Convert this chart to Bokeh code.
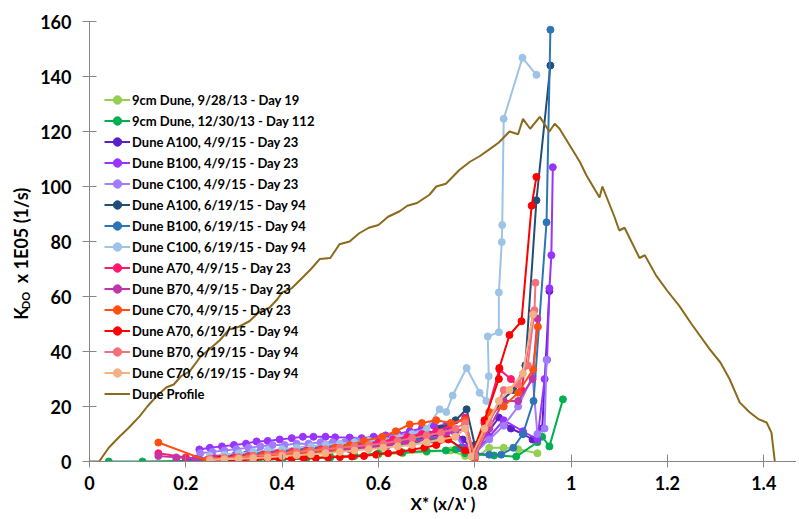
import math
from bokeh.plotting import figure
from bokeh.layouts import row
from bokeh.models import Legend, LegendItem, FixedTicker, CustomJSTickFormatter, Range1d
from bokeh.core.properties import value
from bokeh.embed import file_html
from bokeh.resources import INLINE

FONT = "Lato"

# ---- data ----
s1_x = [0.45, 0.5, 0.55, 0.6, 0.65, 0.7, 0.75, 0.78, 0.8, 0.83, 0.86, 0.89, 0.93]
s1_y = [1.5, 2, 2.2, 2.5, 3, 3.5, 4, 2, 1, 5, 5, 4.5, 3]

s2_x = [0.04, 0.11, 0.18, 0.25, 0.3, 0.35, 0.4, 0.45, 0.5, 0.55, 0.6, 0.65, 0.7, 0.74, 0.76, 0.78, 0.8, 0.84, 0.886, 0.93, 0.94, 0.955, 0.983]
s2_y = [0, 0, 0.2, 0.3, 0.5, 0.6, 0.8, 1, 1.5, 2, 3, 3.3, 3.8, 4, 4.4, 3, 2.5, 2.2, 1.8, 7, 9, 5.5, 22.6]

s3_x = [0.20, 0.225, 0.25, 0.275, 0.30, 0.325, 0.35, 0.375, 0.40, 0.425, 0.45, 0.475, 0.50, 0.525, 0.55, 0.575, 0.60, 0.625, 0.65, 0.675, 0.70, 0.725, 0.75, 0.775, 0.80, 0.825, 0.85, 0.875, 0.90, 0.92, 0.94, 0.955]
s3_y = [0.5, 0.8, 1.2, 1.5, 2, 2.5, 3, 3.3, 3.8, 4, 4.5, 4.8, 5, 5.3, 5.8, 6, 6.5, 7, 7.5, 8, 9, 10, 12, 8, 4, 10, 16, 12, 10, 8, 12, 62]

s4_x = [0.228, 0.25, 0.275, 0.30, 0.325, 0.347, 0.37, 0.395, 0.42, 0.443, 0.465, 0.49, 0.51, 0.54, 0.565, 0.59, 0.615, 0.64, 0.665, 0.69, 0.715, 0.74, 0.76, 0.78, 0.80, 0.83, 0.86, 0.90, 0.93, 0.945, 0.95, 0.955, 0.959, 0.962]
s4_y = [4.4, 5, 5.5, 6, 6.5, 7.3, 7.5, 8, 8.5, 9, 9, 9, 8.8, 8.7, 8.5, 9, 9.5, 10, 11, 12, 13, 13, 11, 5, 3, 9, 15, 11, 8, 30, 37, 63, 75, 107]

s5_x = [0.23, 0.255, 0.28, 0.305, 0.33, 0.355, 0.38, 0.405, 0.43, 0.455, 0.48, 0.505, 0.53, 0.555, 0.58, 0.605, 0.63, 0.655, 0.68, 0.705, 0.73, 0.755, 0.78, 0.80, 0.83, 0.86, 0.89, 0.92, 0.93, 0.945, 0.949]
s5_y = [3, 3.5, 4, 4.5, 5, 5.5, 6, 6, 6.5, 6.5, 7, 7, 7, 7.5, 7.5, 8, 8.5, 9, 10, 10, 11, 11, 4, 3, 8, 13, 20, 31, 10, 12, 37]

s6_x = [0.25, 0.28, 0.31, 0.34, 0.37, 0.40, 0.43, 0.46, 0.49, 0.52, 0.55, 0.58, 0.61, 0.64, 0.67, 0.70, 0.73, 0.76, 0.783, 0.80, 0.827, 0.855, 0.88, 0.905, 0.928, 0.957]
s6_y = [1.5, 2, 2.5, 3, 3.5, 4, 4.5, 5, 5.5, 6, 6.5, 7, 7.5, 8, 9, 10, 12, 15, 19, 6, 14, 22, 26, 35, 95, 144]

s7_x = [0.20, 0.23, 0.26, 0.29, 0.32, 0.35, 0.38, 0.41, 0.44, 0.47, 0.50, 0.53, 0.56, 0.59, 0.62, 0.65, 0.68, 0.71, 0.74, 0.77, 0.80, 0.83, 0.855, 0.88, 0.90, 0.922, 0.949, 0.957]
s7_y = [0.3, 0.5, 1, 1.5, 2, 2.5, 3, 3.5, 4, 4, 4.5, 5, 5.5, 6, 6.5, 7, 7.5, 8, 9, 5, 3, 2.5, 2.5, 5, 10, 22, 87, 157]

s8_x = [0.25, 0.28, 0.31, 0.34, 0.37, 0.40, 0.43, 0.46, 0.49, 0.52, 0.55, 0.58, 0.61, 0.64, 0.67, 0.70, 0.727, 0.741, 0.754, 0.783, 0.81, 0.824, 0.829, 0.827, 0.85, 0.85, 0.856, 0.857, 0.86, 0.899, 0.928]
s8_y = [2, 2.5, 3, 3.5, 4, 4.5, 5, 5.5, 6, 6.5, 7, 7.5, 8, 9, 10, 12, 19, 18, 24, 34, 25, 22, 31, 45.5, 47, 61.5, 79.8, 86, 124.6, 146.8, 140.6]

s9_x = [0.143, 0.20, 0.243, 0.27, 0.30, 0.33, 0.36, 0.39, 0.42, 0.45, 0.48, 0.51, 0.54, 0.57, 0.60, 0.63, 0.66, 0.69, 0.72, 0.75, 0.78, 0.795, 0.82, 0.851, 0.875, 0.897, 0.921]
s9_y = [3, 1.5, 0.5, 1, 1.5, 2, 2.5, 3, 3.5, 4, 4.5, 5, 5.5, 6, 7, 8, 9, 10, 11, 13, 16, 3, 14, 33.5, 30, 26, 54]

s10_x = [0.143, 0.18, 0.22, 0.26, 0.30, 0.34, 0.38, 0.42, 0.46, 0.50, 0.54, 0.58, 0.62, 0.66, 0.70, 0.74, 0.78, 0.80, 0.83, 0.86, 0.89, 0.92, 0.93]
s10_y = [2, 1.5, 1, 1.2, 1.5, 2, 2.5, 3, 3.5, 4, 4.5, 5, 6, 7, 8, 10, 12, 2, 12, 22, 22, 30, 52]

s11_x = [0.143, 0.243, 0.27, 0.30, 0.33, 0.36, 0.39, 0.42, 0.45, 0.48, 0.51, 0.54, 0.57, 0.608, 0.636, 0.665, 0.69, 0.72, 0.75, 0.78, 0.80, 0.83, 0.86, 0.89, 0.921, 0.931]
s11_y = [6.9, 0.4, 0.8, 1, 1.5, 2, 2.5, 3, 3.5, 4, 5, 6, 7.5, 9, 11, 13.5, 14, 15, 14, 15, 1, 18, 20, 25, 33.5, 49]

s12_x = [0.27, 0.295, 0.32, 0.345, 0.37, 0.395, 0.42, 0.445, 0.47, 0.495, 0.52, 0.545, 0.57, 0.595, 0.62, 0.645, 0.67, 0.695, 0.72, 0.745, 0.78, 0.795, 0.82, 0.85, 0.851, 0.872, 0.897, 0.918, 0.928]
s12_y = [0.7, 0.8, 0.9, 1, 1, 1, 1.1, 1.2, 1.3, 1.5, 1.6, 1.8, 2, 2.5, 3, 3.5, 4.4, 5, 6, 8, 4, 2.5, 15, 30, 34, 46, 51, 93, 103.5]

s13_x = [0.25, 0.28, 0.31, 0.34, 0.37, 0.40, 0.43, 0.46, 0.49, 0.52, 0.55, 0.58, 0.61, 0.64, 0.67, 0.70, 0.73, 0.76, 0.78, 0.80, 0.83, 0.86, 0.89, 0.91, 0.924, 0.926]
s13_y = [1, 1.3, 1.6, 2, 2.5, 3, 3.5, 4, 4.5, 5, 5.5, 6, 6.5, 7.5, 8.5, 9.5, 10.5, 12, 14, 2, 14, 26, 28, 35, 55, 65]

s14_x = [0.25, 0.28, 0.31, 0.34, 0.37, 0.40, 0.43, 0.46, 0.49, 0.52, 0.55, 0.58, 0.61, 0.64, 0.67, 0.70, 0.73, 0.76, 0.78, 0.793, 0.82, 0.85, 0.872, 0.90, 0.921]
s14_y = [0.5, 0.8, 1, 1.2, 1.5, 2, 2.3, 2.6, 3, 3.5, 4, 4.5, 5, 5.5, 6, 7, 8, 9, 12, 1.8, 12, 22, 26, 32, 53.5]

dune_x = [0, 0.02, 0.04, 0.062, 0.08, 0.104, 0.12, 0.139, 0.16, 0.175, 0.19, 0.208, 0.23, 0.25, 0.27, 0.29, 0.31, 0.332, 0.35, 0.374, 0.39, 0.40, 0.42, 0.443, 0.46, 0.478, 0.5, 0.519, 0.54, 0.56, 0.58, 0.6, 0.62, 0.644, 0.66, 0.68, 0.706, 0.72, 0.74, 0.768, 0.79, 0.81, 0.831, 0.85, 0.872, 0.89, 0.90, 0.915, 0.935, 0.955, 0.966, 0.976, 0.997, 1.018, 1.032, 1.059, 1.065, 1.09, 1.10, 1.111, 1.142, 1.153, 1.177, 1.2, 1.225, 1.25, 1.288, 1.31, 1.329, 1.35, 1.37, 1.39, 1.406, 1.416, 1.423]
dune_y = [0, 0, 5, 9, 12, 16.4, 20, 23.7, 27, 28, 31, 32.8, 38, 41, 44, 48, 49, 51, 54, 56, 59, 61.5, 63, 67, 70, 73.6, 74, 79, 80, 83, 85, 86, 89, 91, 93, 94, 97, 100, 101, 106, 109, 111, 113.6, 116, 120, 119, 124.6, 121, 125.3, 120, 122.8, 121, 115, 109, 104, 96, 100, 89, 84, 85, 74, 75, 67.5, 62, 56.5, 50, 40.8, 36, 30, 21.5, 18, 15.3, 14.2, 10.5, 0]

series_names = [
    "9cm Dune, 9/28/13 - Day 19",
    "9cm Dune, 12/30/13 - Day 112",
    "Dune A100, 4/9/15 - Day 23",
    "Dune B100, 4/9/15 - Day 23",
    "Dune C100, 4/9/15 - Day 23",
    "Dune A100, 6/19/15 - Day 94",
    "Dune B100, 6/19/15 - Day 94",
    "Dune C100, 6/19/15 - Day 94",
    "Dune A70, 4/9/15 - Day 23",
    "Dune B70, 4/9/15 - Day 23",
    "Dune C70, 4/9/15 - Day 23",
    "Dune A70, 6/19/15 - Day 94",
    "Dune B70, 6/19/15 - Day 94",
    "Dune C70, 6/19/15 - Day 94",
]
series_colors = ["#92d050", "#00b050", "#5b21c8", "#9933ff", "#a07cff", "#1f4e79",
                 "#2e75b6", "#9dc3e6", "#ff1a6e", "#c036a8", "#ff4f10", "#ff0000",
                 "#f4717a", "#f4b183"]
series_x = [s1_x, s2_x, s3_x, s4_x, s5_x, s6_x, s7_x, s8_x, s9_x, s10_x, s11_x, s12_x, s13_x, s14_x]
series_y = [s1_y, s2_y, s3_y, s4_y, s5_y, s6_y, s7_y, s8_y, s9_y, s10_y, s11_y, s12_y, s13_y, s14_y]
dune_name = "Dune Profile"
dune_color = "#8c6a1c"

x_ticks = [0, 0.2, 0.4, 0.6, 0.8, 1.0, 1.2, 1.4]
y_ticks = [0, 20, 40, 60, 80, 100, 120, 140, 160]

y_title_parts = ["K", "DO", "x 1E05 (1/s)"]
x_title = "X* (x/λ' )"

H = 517
LW = 36

# ---- y-axis title panel (narrow figure on the left; its frame is aligned with the main frame) ----
left = figure(width=LW, height=H, x_range=Range1d(0, LW), y_range=Range1d(0, 440),
              output_backend="svg", toolbar_location=None, min_border=0,
              x_axis_location=None, y_axis_location=None)
left.outline_line_color = None
left.xgrid.visible = False
left.ygrid.visible = False
left.text(x=[20, 25, 20], y=[148, 161, 226], text=y_title_parts, angle=math.pi / 2,
          text_align="center", text_baseline="middle", text_font=value(FONT),
          text_font_style="bold", text_font_size=["18px", "11px", "18px"], text_color="#000000")

# ---- main figure ----
p = figure(width=796 - LW, height=H, x_range=Range1d(0, 1.468), y_range=Range1d(0, 160),
           output_backend="svg", toolbar_location=None,
           min_border_left=89 - LW, min_border_right=0, min_border_top=21, min_border_bottom=56)
p.outline_line_color = None
p.xgrid.visible = False
p.ygrid.visible = False

for ax in (p.xaxis[0], p.yaxis[0]):
    ax.axis_line_color = "#868686"
    ax.major_tick_line_color = "#868686"
    ax.minor_tick_line_color = None
    ax.major_label_text_font = FONT
    ax.major_label_text_font_style = "bold"
    ax.major_label_text_font_size = "18px"
    ax.major_label_text_color = "#000000"

p.yaxis[0].axis_label = None
p.xaxis[0].axis_label = x_title
p.xaxis[0].axis_label_text_font = FONT
p.xaxis[0].axis_label_text_font_style = "bold"
p.xaxis[0].axis_label_text_font_size = "17px"
p.xaxis[0].axis_label_text_color = "#000000"
p.xaxis[0].axis_label_standoff = 0

p.xaxis[0].ticker = FixedTicker(ticks=x_ticks)
p.xaxis[0].formatter = CustomJSTickFormatter(
    code="var s = tick.toFixed(1); return s.endsWith('.0') ? s.slice(0, -2) : s;")
p.xaxis[0].major_tick_in = 7
p.xaxis[0].major_tick_out = 6
p.xaxis[0].major_label_standoff = 8

p.yaxis[0].ticker = FixedTicker(ticks=y_ticks)
p.yaxis[0].major_tick_in = 7
p.yaxis[0].major_tick_out = 7
p.yaxis[0].major_label_standoff = 11

items = []
for name, col, xs, ys in zip(series_names, series_colors, series_x, series_y):
    r1 = p.line(xs, ys, line_color=col, line_width=2)
    r2 = p.scatter(xs, ys, size=7, fill_color=col, line_color=col)
    items.append(LegendItem(label=name, renderers=[r1, r2]))
rd = p.line(dune_x, dune_y, line_color=dune_color, line_width=2)
items.append(LegendItem(label=dune_name, renderers=[rd]))

legend = Legend(items=items, location=(15, 57))
legend.background_fill_alpha = 0
legend.border_line_color = None
legend.padding = 0
legend.margin = 0
legend.spacing = 0
legend.glyph_height = 21
legend.label_height = 21
legend.glyph_width = 26
legend.label_standoff = 2
legend.label_text_font = FONT
legend.label_text_font_style = "bold"
legend.label_text_font_size = "13px"
legend.label_text_color = "#000000"
p.add_layout(legend)

layout = row(left, p)
open("out.html", "w").write(file_html(layout, INLINE))
